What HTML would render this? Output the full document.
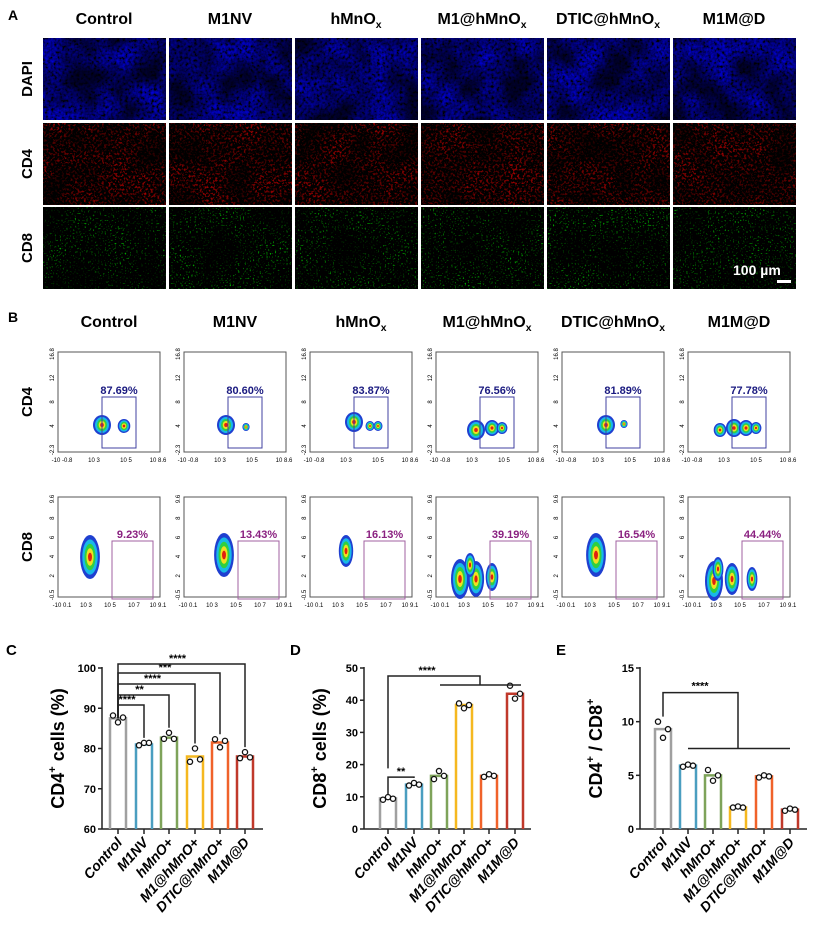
<!DOCTYPE html>
<html><head><meta charset="utf-8"><style>
html,body{margin:0;padding:0;background:#fff}
svg{display:block;font-family:"Liberation Sans",Arial,sans-serif}
</style></head><body>
<svg id="fig" width="816" height="945" viewBox="0 0 816 945" xmlns="http://www.w3.org/2000/svg">
<defs>
<filter id="fBlue" x="0" y="0" width="100%" height="100%"><feTurbulence type="fractalNoise" baseFrequency="0.35" numOctaves="2" seed="3"/><feColorMatrix values="0 0 0 0 0  0 0 0 0 0  0 0 1.2 0 -0.32  0 0 0 0 1"/></filter>
<filter id="fRed" x="0" y="0" width="100%" height="100%"><feTurbulence type="fractalNoise" baseFrequency="0.45" numOctaves="2" seed="7"/><feColorMatrix values="1.5 0 0 0 -0.8  0 0 0 0 0  0 0 0 0 0  0 0 0 0 1"/></filter>
<filter id="fGreen" x="0" y="0" width="100%" height="100%"><feTurbulence type="fractalNoise" baseFrequency="0.6" numOctaves="1" seed="11"/><feColorMatrix values="0 0 0 0 0  0 2.5 0 0 -1.55  0 0 0 0 0  0 0 0 0 1"/></filter>
<filter id="fMask" x="0" y="0" width="100%" height="100%"><feTurbulence type="fractalNoise" baseFrequency="0.03" numOctaves="2" seed="5"/><feColorMatrix values="0 0 0 0 0  0 0 0 0 0  0 0 0 0 0  0 0 0 -2.2 1.6"/></filter>
</defs>
<g id="panelA"></g>
<g id="panelB"></g>
<g id="panelC"></g>
<g id="panelD"></g>
<g id="panelE"></g>
</svg>
<script>
const groups = ["Control","M1NV","hMnOx","M1@hMnOx","DTIC@hMnOx","M1M@D"];
const cd4Pct = ["87.69%","80.60%","83.87%","76.56%","81.89%","77.78%"];
const cd8Pct = ["9.23%","13.43%","16.13%","39.19%","16.54%","44.44%"];
const cd4Means = [87.5,81,82.7,78,81.5,78];
const cd4Points = [[88.2,86.5,87.7],[80.8,81.4,81.4],[82.4,83.9,82.4],[76.7,80,77.3],[82.3,80.3,81.9],[77.6,79.1,77.8]];
const cd8Means = [9.5,13.8,16.5,38.5,16.5,42];
const cd8Points = [[9.1,9.9,9.4],[13.5,14.3,13.8],[15.5,18,16.5],[39,37.5,38.5],[16.2,17,16.5],[44.5,40.5,42]];
const ratioMeans = [9.3,5.9,5.0,2.0,4.9,1.8];
const ratioPoints = [[10,8.5,9.3],[5.8,6,5.9],[5.5,4.5,5.0],[2.0,2.1,2.0],[4.8,5.0,4.9],[1.7,1.9,1.8]];
const cd4Ticks = [60,70,80,90,100];
const cd8Ticks = [0,10,20,30,40,50];
const ratioTicks = [0,5,10,15];
const barColors = ["#a0a0a0","#4a9ec0","#7ea35a","#f5b820","#f0622a","#c0392b"];
const NS="http://www.w3.org/2000/svg";
function el(parent,tag,attrs,text){const e=document.createElementNS(NS,tag);for(const k in attrs)e.setAttribute(k,attrs[k]);if(text!==undefined)e.textContent=text;parent.appendChild(e);return e;}
function sub(g,name,x,y,anchor,size){
  const t=el(g,"text",{x:x,y:y,"text-anchor":anchor||"middle","font-size":size||16,"font-weight":"bold"});
  if(name.endsWith("Ox")){t.appendChild(document.createTextNode(name.slice(0,-1)));el(t,"tspan",{"font-size":(size||16)*0.65,dy:4},"x");}
  else t.textContent=name;
  
  
  return t;
}
// ---- Panel A
const A=document.getElementById("panelA");
let t=el(A,"text",{x:8,y:20,"font-size":14,"font-weight":"bold"},"A");


const rowsA=[["DAPI",38,"url(#fBlue)"],["CD4",123,"url(#fRed)"],["CD8",207,"url(#fGreen)"]];
groups.forEach((g,i)=>{sub(A,g,43+i*126+61,24);});
rowsA.forEach((r,ri)=>{
  const lt=el(A,"text",{x:0,y:0,"font-size":15,"font-weight":"bold","text-anchor":"middle",transform:`translate(32,${r[1]+41}) rotate(-90)`},r[0]);
  
  
  groups.forEach((g,i)=>{
    const im=el(A,"rect",{x:43+i*126,y:r[1],width:123,height:82,fill:"#000",filter:r[2]});
    
    
    const m=el(A,"rect",{x:43+i*126,y:r[1],width:123,height:82,fill:"#000",filter:"url(#fMask)",opacity:0.75});
    
    
  });
});
t=el(A,"text",{x:733,y:275,"font-size":14,"font-weight":"bold",fill:"#fff"},"100 µm");


t=el(A,"rect",{x:777,y:280,width:14,height:3,fill:"#fff"});


// ---- Panel B
const B=document.getElementById("panelB");
t=el(B,"text",{x:8,y:322,"font-size":14,"font-weight":"bold"},"B");


groups.forEach((g,i)=>{sub(B,g,58+i*126+51,327);});
const blobs4=[[[44,73,1],[66,74,0.7]],[[42,73,1],[62,75,0.4]],[[44,70,1],[60,74,0.5],[68,74,0.5]],[[40,78,1],[56,76,0.8],[66,76,0.6]],[[44,73,1],[62,72,0.4]],[[32,78,0.7],[46,76,0.9],[58,76,0.8],[68,76,0.6]]];
const blobs8=[[[32,60,1.1]],[[40,58,1.1]],[[36,54,0.8]],[[24,82,1],[40,82,0.9],[56,80,0.7],[34,68,0.6]],[[34,58,1.1]],[[26,84,1],[44,82,0.8],[64,82,0.6],[30,72,0.6]]];
function blob(g,x,y,s,tall){
  const cols=["#1f3fd0","#18b8e8","#30d040","#f0e020","#e02010"];
  const rx=[9,7,5,3.3,1.8],ry=tall?[20,16,12,8,4]:[10,8,6,4,2];
  cols.forEach((c,k)=>el(g,"ellipse",{cx:x,cy:y,rx:rx[k]*s,ry:ry[k]*s,fill:c}));
}
[[352,cd4Pct,blobs4,"#1a1a80",[44,45,34,51],["16.8","12","8","4","-2.3"],["-10 -0.8","10 3","10 5","10 8.6"]],
 [497,cd8Pct,blobs8,"#8a2080",[54,44,41,58],["9.6","8","6","4","2","-0.5"],["-10 0.1","10 3","10 5","10 7","10 9.1"]]].forEach((row,ri)=>{
  const y0=row[0];
  const lt=el(B,"text",{x:0,y:0,"font-size":15,"font-weight":"bold","text-anchor":"middle",transform:`translate(32,${y0+50}) rotate(-90)`},ri?"CD8":"CD4");
  
  
  groups.forEach((g,i)=>{
    const x0=58+i*126;
    const pg=el(B,"g",{});
    
    
    el(pg,"rect",{x:x0,y:y0,width:102,height:100,fill:"#fff",stroke:"#555","stroke-width":1});
    row[5].forEach((lb,k)=>el(pg,"text",{x:0,y:0,"font-size":6,"text-anchor":"middle",transform:`translate(${x0-4},${y0+2+k*96/(row[5].length-1)}) rotate(-90)`},lb));
    row[6].forEach((lb,k)=>el(pg,"text",{x:x0+4+k*96/(row[6].length-1),y:y0+110,"font-size":6,"text-anchor":"middle"},lb));
    row[2][i].forEach(b=>blob(pg,x0+b[0],y0+b[1],b[2],ri===1));
    const gt=row[4];
    const gate=el(pg,"rect",{x:x0+gt[0],y:y0+gt[1],width:gt[2],height:gt[3],fill:"none",stroke:ri?"#a060a0":"#4040a0","stroke-width":1});
    
    
    el(pg,"text",{x:x0+gt[0]+gt[2]/2,y:y0+gt[1]-3,"font-size":11,"font-weight":"bold","text-anchor":"middle",fill:row[3]},row[1][i]);
  });
});
// ---- Bar charts
function chart(id,letter,lx,ax,xEnd,centers,ticks,means,points,ytitle,brackets,tickFmt){
  const G=document.getElementById(id);
  const top=668,base=829,lo=ticks[0],hi=ticks[ticks.length-1];
  const ys=v=>base-(v-lo)/(hi-lo)*(base-top);
  let t=el(G,"text",{x:lx,y:655,"font-size":15,"font-weight":"bold"},letter);
  
  
  el(G,"line",{x1:ax,y1:top-1,x2:ax,y2:base,stroke:"#222","stroke-width":1.5});
  el(G,"line",{x1:ax,y1:base,x2:xEnd,y2:base,stroke:"#222","stroke-width":1.5});
  ticks.forEach(v=>{el(G,"line",{x1:ax-4,y1:ys(v),x2:ax,y2:ys(v),stroke:"#222","stroke-width":1.5});
    const tl=el(G,"text",{x:ax-6,y:ys(v)+4,"font-size":11,"font-weight":"bold","text-anchor":"end"},tickFmt(v));
    
    });
  const yt=el(G,"text",{x:0,y:0,"font-size":18,"font-weight":"bold","text-anchor":"middle",transform:`translate(${ax-38},${(top+base)/2}) rotate(-90)`});
  yt.innerHTML=ytitle;
  
  
  centers.forEach((c,i)=>{
    const y=ys(means[i]);
    const bar=el(G,"path",{d:`M${c-8},${base} V${y} H${c+8} V${base}`,fill:"none",stroke:barColors[i],"stroke-width":2.5});
    
    
    el(G,"line",{x1:c,y1:base,x2:c,y2:base+5,stroke:"#222","stroke-width":1.5});
    points[i].forEach((p,k)=>{const d=el(G,"circle",{cx:c-5+k*5,cy:ys(p),r:2.6,fill:"#fff",stroke:"#111","stroke-width":1.3});
      
      });
    const lab=el(G,"text",{x:0,y:0,"font-size":14,"font-weight":"bold","font-style":"italic","text-anchor":"end",transform:`translate(${c+5},${base+14}) rotate(-48)`},groups[i].replace("Ox","O+"));
    
    
  });
  brackets(G,ys);
}
const lineA={stroke:"#222","stroke-width":1.5,fill:"none"};
const C_X=[118,144,169,195,220,245];
chart("panelC","C",6,102,263,C_X,cd4Ticks,cd4Means,cd4Points,'CD4<tspan dy="-8" font-size="11">+</tspan><tspan dy="8"> cells (%)</tspan>',(G,ys)=>{
  const tops=[705,695,684,673,664],stars=["****","**","****","***","****"];
  for(let k=1;k<6;k++){const y=tops[k-1];
    el(G,"path",Object.assign({d:`M${C_X[0]},${ys(cd4Means[0])} V${y} H${C_X[k]} V${ys(Math.max(...cd4Points[k]))-5}`},lineA));
    el(G,"text",{x:(C_X[0]+C_X[k])/2-4,y:y-2,"font-size":11,"font-weight":"bold","text-anchor":"middle"},stars[k-1]);}
},v=>v);
const D_X=[388,414,439,464,489,515];
chart("panelD","D",290,364,531,D_X,cd8Ticks,cd8Means,cd8Points,'CD8<tspan dy="-8" font-size="11">+</tspan><tspan dy="8"> cells (%)</tspan>',(G,ys)=>{
  el(G,"path",Object.assign({d:`M${D_X[0]},${ys(cd8Means[0])-4} V${ys(cd8Points[0][1])-20} H${D_X[1]} V${ys(cd8Points[1][1])-5}`},lineA));
  el(G,"text",{x:401,y:ys(cd8Points[0][1])-22,"font-size":11,"font-weight":"bold","text-anchor":"middle"},"**");
  const yt=ys(47.5);
  el(G,"path",Object.assign({d:`M${D_X[0]},${ys(cd8Means[0])-30} V${yt} H480 V${yt+9}`},lineA));
  el(G,"line",Object.assign({x1:440,y1:yt+9,x2:521,y2:yt+9},lineA));
  el(G,"text",{x:427,y:yt-2,"font-size":11,"font-weight":"bold","text-anchor":"middle"},"****");
},v=>v);
const E_X=[663,688,713,738,764,790];
chart("panelE","E",556,640,807,E_X,ratioTicks,ratioMeans,ratioPoints,'CD4<tspan dy="-8" font-size="11">+</tspan><tspan dy="8"> / CD8</tspan><tspan dy="-8" font-size="11">+</tspan>',(G,ys)=>{
  const yt=ys(12.7),yb=ys(7.5);
  el(G,"path",Object.assign({d:`M${E_X[0]},${ys(10)-5} V${yt} H${E_X[3]} V${yb}`},lineA));
  el(G,"line",Object.assign({x1:E_X[1],y1:yb,x2:E_X[5],y2:yb},lineA));
  el(G,"text",{x:700,y:yt-3,"font-size":11,"font-weight":"bold","text-anchor":"middle"},"****");
},v=>v);
</script>
</body></html>
